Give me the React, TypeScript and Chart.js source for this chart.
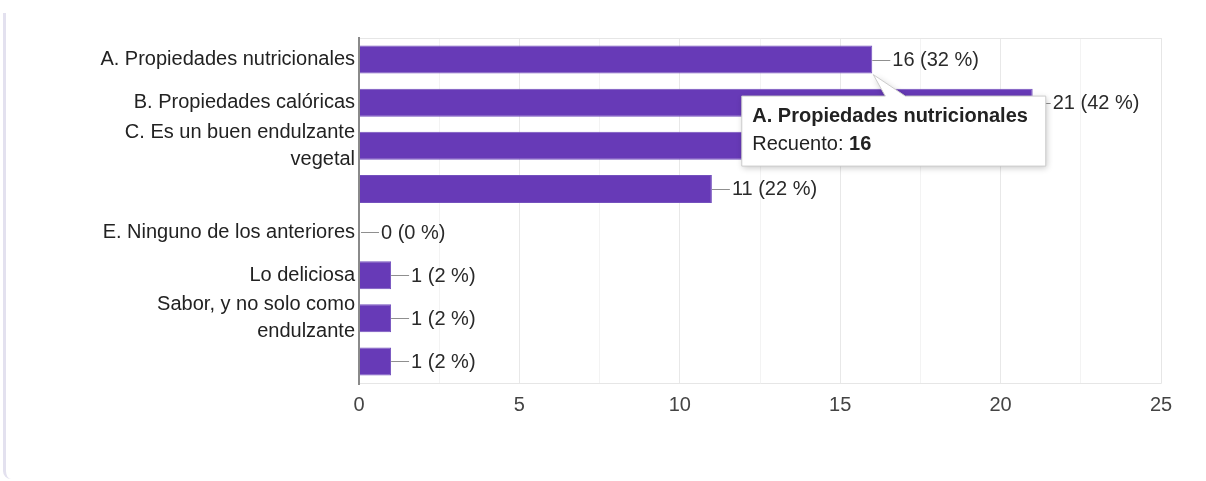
import React, { useEffect, useRef } from 'react';
import { Chart, registerables } from 'chart.js';

Chart.register(...registerables);

const categories: (string | string[])[] = [
  'A. Propiedades nutricionales',
  'B. Propiedades calóricas',
  ['C. Es un buen endulzante', 'vegetal'],
  '',
  'E. Ninguno de los anteriores',
  'Lo deliciosa',
  ['Sabor, y no solo como', 'endulzante'],
  '',
];
const counts = [16, 21, 14, 11, 0, 1, 1, 1];
const totalResponses = 50;
const xMax = 25;
const xStep = 2.5;
const majorStep = 5;
const tooltipIndex = 0;
const tooltipTitle = 'A. Propiedades nutricionales';
const tooltipLabel = 'Recuento: ';

const FONT = 'Arial, "Liberation Sans", sans-serif';
const BAR = '#673ab7';

const valueLabels = {
  id: 'valueLabels',
  afterDatasetsDraw(chart: any) {
    const ctx = chart.ctx;
    const meta = chart.getDatasetMeta(0);
    ctx.save();
    ctx.font = `20px ${FONT}`;
    ctx.textBaseline = 'middle';
    ctx.textAlign = 'left';
    meta.data.forEach((el: any, i: number) => {
      const v = counts[i];
      const start = Math.max(el.x, el.base + 2);
      const y = Math.round(el.y) + 0.5;
      ctx.strokeStyle = '#8f8f8f';
      ctx.lineWidth = 1;
      ctx.beginPath();
      ctx.moveTo(start, y);
      ctx.lineTo(start + 18, y);
      ctx.stroke();
      ctx.fillStyle = '#2a2a2a';
      const pct = Math.round((v / totalResponses) * 100);
      ctx.fillText(`${v} (${pct} %)`, start + 20, el.y + 1);
    });
    ctx.restore();
  },
};

const frame = {
  id: 'frame',
  beforeDatasetsDraw(chart: any) {
    const { ctx, chartArea: a } = chart;
    ctx.save();
    ctx.strokeStyle = '#e6e6e6';
    ctx.lineWidth = 1;
    ctx.beginPath();
    ctx.moveTo(a.left, a.top + 0.5);
    ctx.lineTo(a.right + 0.5, a.top + 0.5);
    ctx.lineTo(a.right + 0.5, a.bottom + 0.5);
    ctx.lineTo(a.left, a.bottom + 0.5);
    ctx.stroke();
    ctx.restore();
  },
  afterDatasetsDraw(chart: any) {
    const { ctx, chartArea: a } = chart;
    ctx.save();
    ctx.strokeStyle = '#8a8a8a';
    ctx.lineWidth = 2;
    ctx.beginPath();
    ctx.moveTo(a.left, a.top - 1);
    ctx.lineTo(a.left, a.bottom + 2);
    ctx.stroke();
    ctx.restore();
  },
};

const staticTooltip = {
  id: 'staticTooltip',
  afterDraw(chart: any) {
    const ctx = chart.ctx;
    const el = chart.getDatasetMeta(0).data[tooltipIndex];
    if (!el) return;
    const tipX = el.x + 1;
    const tipY = el.y + el.height / 2 + 1;
    const left = el.x - 131;
    const top = tipY + 21;
    const w = 304;
    const h = 70;
    const b1 = el.x + 13;
    const b2 = el.x + 33;
    const path = () => {
      ctx.beginPath();
      ctx.moveTo(left + 0.5, top + 0.5);
      ctx.lineTo(b1, top + 0.5);
      ctx.lineTo(tipX, tipY);
      ctx.lineTo(b2, top + 0.5);
      ctx.lineTo(left + w + 0.5, top + 0.5);
      ctx.lineTo(left + w + 0.5, top + h + 0.5);
      ctx.lineTo(left + 0.5, top + h + 0.5);
      ctx.closePath();
    };
    ctx.save();
    ctx.shadowColor = 'rgba(0,0,0,0.22)';
    ctx.shadowBlur = 6;
    ctx.shadowOffsetX = 1;
    ctx.shadowOffsetY = 2;
    ctx.fillStyle = '#ffffff';
    path();
    ctx.fill();
    ctx.restore();
    ctx.save();
    ctx.strokeStyle = '#cccccc';
    ctx.lineWidth = 1;
    path();
    ctx.stroke();
    ctx.fillStyle = '#222222';
    ctx.textBaseline = 'middle';
    ctx.textAlign = 'left';
    ctx.font = `bold 20px ${FONT}`;
    ctx.fillText(tooltipTitle, left + 11, top + 21);
    ctx.font = `20px ${FONT}`;
    ctx.fillText(tooltipLabel, left + 11, top + 49);
    const lw = ctx.measureText(tooltipLabel).width;
    ctx.font = `bold 20px ${FONT}`;
    ctx.fillText(String(counts[tooltipIndex]), left + 11 + lw, top + 49);
    ctx.restore();
  },
};

export default function App() {
  const ref = useRef<HTMLCanvasElement | null>(null);
  useEffect(() => {
    if (!ref.current) return;
    const chart = new Chart(ref.current, {
      type: 'bar',
      data: {
        labels: categories,
        datasets: [
          {
            data: counts,
            backgroundColor: BAR,
            borderColor: '#7451bd',
            borderWidth: 1,
            barPercentage: 0.65,
            categoryPercentage: 1,
          },
        ],
      },
      options: {
        indexAxis: 'y',
        responsive: false,
        animation: false,
        events: [],
        layout: { padding: { top: 38, right: 45, left: 0, bottom: 0 } },
        plugins: {
          legend: { display: false },
          tooltip: { enabled: false },
        },
        scales: {
          x: {
            min: 0,
            max: xMax,
            afterFit: (s: any) => {
              s.height = 98;
            },
            ticks: {
              stepSize: xStep,
              autoSkip: false,
              maxRotation: 0,
              padding: 10,
              color: '#444444',
              font: { family: FONT, size: 20 },
              callback: (v: any) => (Number(v) % majorStep === 0 ? String(v) : ''),
            },
            grid: {
              drawTicks: false,
              color: (c: any) =>
                c.tick && c.tick.value % majorStep === 0 ? '#e8e8e8' : '#f3f3f3',
            },
            border: { display: false },
          },
          y: {
            afterFit: (s: any) => {
              s.width = 359;
            },
            ticks: {
              padding: 4,
              color: '#222222',
              autoSkip: false,
              font: { family: FONT, size: 20, lineHeight: 1.35 },
            },
            grid: { display: false, drawTicks: false },
            border: { display: false },
          },
        },
      },
      plugins: [frame, valueLabels, staticTooltip],
    });
    return () => chart.destroy();
  }, []);
  return (
    <div style={{ position: 'absolute', left: 0, top: 0, width: 1206, height: 481, background: '#fff' }}>
      <div
        style={{
          position: 'absolute',
          left: 3,
          top: 13,
          width: 1300,
          height: 466,
          borderLeft: '3px solid #e3e1ef',
          borderBottomLeftRadius: 8,
          boxSizing: 'border-box',
        }}
      />
      <canvas ref={ref} width={1206} height={481} style={{ position: 'absolute', left: 0, top: 0, display: 'block' }} />
    </div>
  );
}
